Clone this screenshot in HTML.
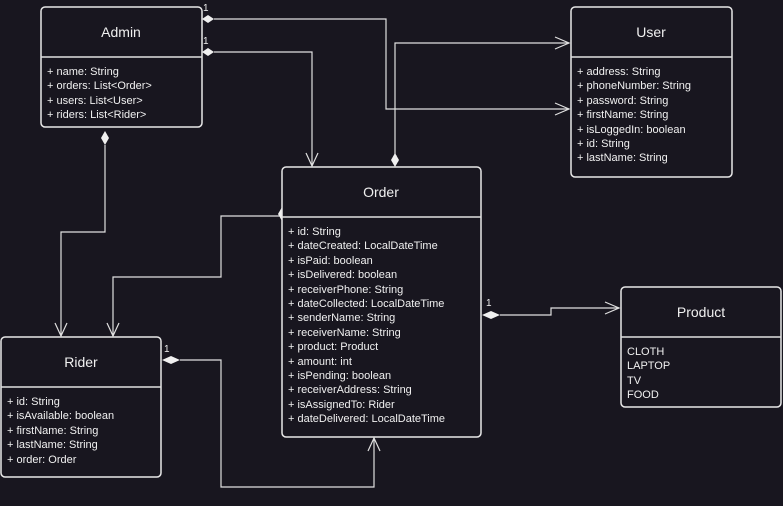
<!DOCTYPE html>
<html><head><meta charset="utf-8"><style>
body{margin:0;background:#18161f;width:783px;height:506px;overflow:hidden}
svg{display:block}
text{font-family:"Liberation Sans",sans-serif;fill:#f0f0f0}
.t{font-size:14px}
.a{font-size:11px}
.box{fill:#18161f;stroke:#e8e8e8;stroke-width:1.5}
.ln{stroke:#e0e0e0;stroke-width:1.2;fill:none}
.dm{fill:#f0f0f0;stroke:none}
</style></head><body>
<svg width="783" height="506" viewBox="0 0 783 506">
<polyline class="ln" points="214,19 386,19 386,109 569,109"/>
<polyline class="ln" points="214,52 312,52 312,166"/>
<polyline class="ln" points="395,155 395,43 569,43"/>
<polyline class="ln" points="105,145 105,232 61,232 61,336"/>
<polyline class="ln" points="282,216 221,216 221,277 113,277 113,336"/>
<polyline class="ln" points="180,360 221,360 221,487 374,487 374,438"/>
<polyline class="ln" points="500,315 551,315 551,308 619,308"/>
<polyline class="ln" points="555,103 569,109 555,115"/>
<polyline class="ln" points="555,37 569,43 555,49"/>
<polyline class="ln" points="306,153 312,166 318,153"/>
<polyline class="ln" points="55,323 61,336 67,323"/>
<polyline class="ln" points="107,323 113,336 119,323"/>
<polyline class="ln" points="368,451 374,438 380,451"/>
<polyline class="ln" points="605,302 619,308 605,314"/>
<polygon class="dm" points="202,19 208,15 214,19 208,23"/>
<polygon class="dm" points="202,52 208,48 214,52 208,56"/>
<polygon class="dm" points="105,131 109,138 105,145 101,138"/>
<polygon class="dm" points="395,167 391,160 395,153 399,160"/>
<polygon class="dm" points="282,207 286,214 282,221 278,214"/>
<polygon class="dm" points="162,360 171,356 180,360 171,364"/>
<polygon class="dm" points="482,315 491,311 500,315 491,319"/>
<g class="a" style="font-size:10px">
<text x="203" y="11">1</text><text x="203" y="44">1</text>
<text x="109" y="119">1</text><text x="393" y="162">1</text>
<text x="287" y="201">1</text><text x="164" y="352">1</text>
<text x="486" y="306">1</text>
</g>
<rect class="box" x="41" y="7" width="161" height="120" rx="4"/>
<line class="ln" x1="41" y1="57" x2="202" y2="57" style="stroke-width:1.5"/>
<text class="t" x="121" y="37" text-anchor="middle">Admin</text>
<g class="a"><text x="47" y="75">+ name: String</text><text x="47" y="89">+ orders: List&lt;Order&gt;</text><text x="47" y="104">+ users: List&lt;User&gt;</text><text x="47" y="118">+ riders: List&lt;Rider&gt;</text></g>
<rect class="box" x="571" y="7" width="161" height="170" rx="4"/>
<line class="ln" x1="571" y1="57" x2="732" y2="57" style="stroke-width:1.5"/>
<text class="t" x="651" y="37" text-anchor="middle">User</text>
<g class="a"><text x="577" y="75">+ address: String</text><text x="577" y="89">+ phoneNumber: String</text><text x="577" y="104">+ password: String</text><text x="577" y="118">+ firstName: String</text><text x="577" y="133">+ isLoggedIn: boolean</text><text x="577" y="147">+ id: String</text><text x="577" y="161">+ lastName: String</text></g>
<rect class="box" x="282" y="167" width="199" height="270" rx="4"/>
<line class="ln" x1="282" y1="217" x2="481" y2="217" style="stroke-width:1.5"/>
<text class="t" x="381" y="197" text-anchor="middle">Order</text>
<g class="a">
<text x="288" y="235">+ id: String</text><text x="288" y="249">+ dateCreated: LocalDateTime</text><text x="288" y="264">+ isPaid: boolean</text><text x="288" y="278">+ isDelivered: boolean</text><text x="288" y="293">+ receiverPhone: String</text><text x="288" y="307">+ dateCollected: LocalDateTime</text><text x="288" y="321">+ senderName: String</text><text x="288" y="336">+ receiverName: String</text><text x="288" y="350">+ product: Product</text><text x="288" y="365">+ amount: int</text><text x="288" y="379">+ isPending: boolean</text><text x="288" y="393">+ receiverAddress: String</text><text x="288" y="408">+ isAssignedTo: Rider</text><text x="288" y="422">+ dateDelivered: LocalDateTime</text></g>
<rect class="box" x="621" y="287" width="160" height="120" rx="4"/>
<line class="ln" x1="621" y1="337" x2="781" y2="337" style="stroke-width:1.5"/>
<text class="t" x="701" y="317" text-anchor="middle">Product</text>
<g class="a"><text x="627" y="355">CLOTH</text><text x="627" y="369">LAPTOP</text><text x="627" y="384">TV</text><text x="627" y="398">FOOD</text></g>
<rect class="box" x="1" y="337" width="160" height="140" rx="4"/>
<line class="ln" x1="1" y1="387" x2="161" y2="387" style="stroke-width:1.5"/>
<text class="t" x="81" y="367" text-anchor="middle">Rider</text>
<g class="a"><text x="7" y="405">+ id: String</text><text x="7" y="419">+ isAvailable: boolean</text><text x="7" y="434">+ firstName: String</text><text x="7" y="448">+ lastName: String</text><text x="7" y="463">+ order: Order</text></g>
</svg>
</body></html>
